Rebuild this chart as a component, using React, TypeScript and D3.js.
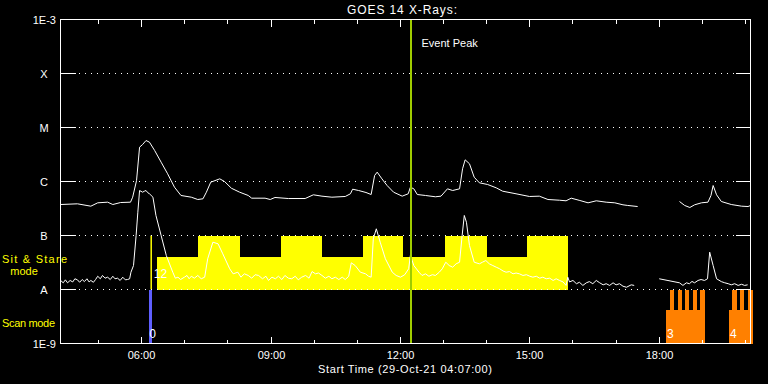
import React from 'react';
import * as d3 from 'd3';

// Time axis (decimal hours, 29-Oct-21), start 04:07
const START_HOUR = 4 + 7 / 60;
const END_HOUR = START_HOUR + 16;
const EVENT_PEAK_HOUR = 12 + 14 / 60;

// GOES 14 long channel (1-8 Å), W/m^2 ; null = data gap
const longTimes = [4.12, 4.51, 4.82, 4.98, 5.21, 5.33, 5.51, 5.74, 5.79, 5.88, 5.95, 6.02, 6.10, 6.18, 6.30, 6.45, 6.60, 6.76, 6.91, 7.15, 7.30, 7.42, 7.50, 7.60, 7.81, 7.92, 8.08, 8.27, 8.47, 8.55, 8.86, 8.98, 9.09, 9.40, 9.79, 9.98, 10.18, 10.41, 10.72, 10.84, 10.89, 11.03, 11.20, 11.32, 11.40, 11.46, 11.57, 11.69, 11.84, 12.04, 12.18, 12.23, 12.31, 12.39, 12.58, 12.81, 12.94, 13.09, 13.21, 13.37, 13.44, 13.50, 13.60, 13.71, 13.83, 14.02, 14.22, 14.37, 14.68, 14.99, 15.22, 15.42, 15.69, 15.84, 15.96, 16.16, 16.35, 16.54, 16.77, 16.97, 17.16, 17.27, 17.50, 18.00, 18.47, 18.59, 18.71, 18.82, 18.98, 19.13, 19.20, 19.25, 19.33, 19.44, 19.67, 19.91, 20.06, 20.12];
const longFlux = [3.75e-7, 3.86e-7, 3.49e-7, 4.03e-7, 4.14e-7, 3.75e-7, 4.08e-7, 4.14e-7, 5.12e-7, 1.04e-6, 4.32e-6, 4.84e-6, 5.74e-6, 5.34e-6, 3.75e-6, 2.28e-6, 1.39e-6, 7.84e-7, 5.51e-7, 5.12e-7, 4.64e-7, 4.78e-7, 6.34e-7, 9.7e-7, 1.12e-6, 1.0e-6, 7.5e-7, 6.34e-7, 5.51e-7, 4.91e-7, 4.91e-7, 4.64e-7, 5.06e-7, 4.84e-7, 4.84e-7, 5.67e-7, 5.35e-7, 5.12e-7, 5.28e-7, 5.92e-7, 7.2e-7, 6.81e-7, 6.26e-7, 5.74e-7, 1.29e-6, 1.49e-6, 1.12e-6, 8.43e-7, 6.34e-7, 5.35e-7, 5.92e-7, 7.84e-7, 7.32e-7, 5.74e-7, 5.51e-7, 5.21e-7, 5.35e-7, 7.32e-7, 6.81e-7, 7.32e-7, 1.72e-6, 2.52e-6, 2.13e-6, 1.2e-6, 9.46e-7, 8.8e-7, 7.64e-7, 6.61e-7, 5.92e-7, 5.28e-7, 5.35e-7, 4.64e-7, 4.5e-7, 4.39e-7, 4.91e-7, 4.45e-7, 4.03e-7, 4.39e-7, 4.14e-7, 4.03e-7, 3.7e-7, 3.6e-7, 3.44e-7, null, 4.26e-7, 3.6e-7, 3.3e-7, 3.7e-7, 4.03e-7, 4.14e-7, 5.51e-7, 8.43e-7, 5.67e-7, 4.26e-7, 3.75e-7, 3.49e-7, 3.44e-7, 3.6e-7];

// GOES 14 short channel (0.5-4 Å), W/m^2 ; null = data gap
const shortTimes = [4.12, 4.18, 4.23, 4.28, 4.34, 4.40, 4.45, 4.51, 4.56, 4.62, 4.67, 4.73, 4.78, 4.82, 4.88, 4.93, 4.98, 5.04, 5.09, 5.15, 5.21, 5.27, 5.33, 5.38, 5.44, 5.50, 5.56, 5.62, 5.67, 5.72, 5.75, 5.81, 5.87, 5.91, 5.95, 6.02, 6.06, 6.10, 6.14, 6.18, 6.26, 6.33, 6.45, 6.57, 6.72, 6.78, 6.84, 6.90, 6.99, 7.05, 7.10, 7.15, 7.22, 7.30, 7.38, 7.46, 7.53, 7.65, 7.77, 7.88, 8.04, 8.12, 8.23, 8.30, 8.38, 8.47, 8.55, 8.63, 8.71, 8.80, 8.88, 8.94, 9.02, 9.10, 9.17, 9.25, 9.32, 9.40, 9.48, 9.56, 9.63, 9.71, 9.80, 9.88, 9.95, 10.03, 10.10, 10.18, 10.26, 10.34, 10.41, 10.49, 10.57, 10.65, 10.72, 10.80, 10.86, 10.95, 11.07, 11.19, 11.26, 11.32, 11.37, 11.44, 11.53, 11.65, 11.81, 11.90, 12.00, 12.10, 12.19, 12.23, 12.31, 12.43, 12.50, 12.58, 12.66, 12.74, 12.81, 12.90, 12.97, 13.05, 13.13, 13.21, 13.29, 13.37, 13.43, 13.48, 13.53, 13.60, 13.71, 13.83, 13.90, 13.98, 14.06, 14.14, 14.22, 14.30, 14.38, 14.45, 14.53, 14.61, 14.68, 14.76, 14.84, 14.92, 15.00, 15.07, 15.15, 15.23, 15.30, 15.38, 15.46, 15.54, 15.61, 15.69, 15.77, 15.84, 15.88, 15.92, 16.00, 16.08, 16.15, 16.23, 16.31, 16.38, 16.46, 16.54, 16.62, 16.70, 16.77, 16.85, 16.93, 17.00, 17.08, 17.16, 17.24, 17.35, 17.42, 17.50, 18.00, 18.47, 18.55, 18.63, 18.70, 18.76, 18.82, 18.90, 18.97, 19.05, 19.12, 19.17, 19.25, 19.33, 19.44, 19.52, 19.60, 19.67, 19.75, 19.83, 19.91, 19.98, 20.05, 20.12];
const shortFlux = [1.47e-8, 1.33e-8, 1.51e-8, 1.33e-8, 1.47e-8, 1.38e-8, 1.58e-8, 1.51e-8, 1.36e-8, 1.53e-8, 1.40e-8, 1.58e-8, 1.38e-8, 1.47e-8, 1.36e-8, 1.53e-8, 1.76e-8, 1.58e-8, 1.82e-8, 1.62e-8, 1.69e-8, 1.53e-8, 1.76e-8, 1.58e-8, 1.62e-8, 1.47e-8, 1.69e-8, 1.51e-8, 1.53e-8, 1.58e-8, 2.09e-8, 2.78e-8, 1.0e-7, 2.7e-7, 6.81e-7, 6.34e-7, 6.6e-7, 6.81e-7, 6.2e-7, 5.92e-7, 5.12e-7, 2.35e-7, 1.0e-7, 4.26e-8, 2.09e-8, 1.62e-8, 1.69e-8, 1.53e-8, 1.69e-8, 1.82e-8, 1.58e-8, 1.76e-8, 1.62e-8, 1.82e-8, 1.58e-8, 1.69e-8, 3.71e-8, 7.52e-8, 7.02e-8, 4.58e-8, 2.42e-8, 1.95e-8, 2.09e-8, 1.69e-8, 1.95e-8, 1.82e-8, 1.62e-8, 1.88e-8, 1.82e-8, 1.58e-8, 1.76e-8, 1.47e-8, 1.69e-8, 1.58e-8, 1.76e-8, 1.53e-8, 1.82e-8, 1.62e-8, 1.58e-8, 1.76e-8, 1.51e-8, 1.69e-8, 1.82e-8, 1.62e-8, 2.15e-8, 1.95e-8, 2.02e-8, 1.82e-8, 1.62e-8, 1.76e-8, 1.58e-8, 1.69e-8, 1.53e-8, 1.69e-8, 1.53e-8, 1.76e-8, 3.12e-8, 2.78e-8, 2.09e-8, 1.95e-8, 1.76e-8, 1.69e-8, 8.69e-8, 1.33e-7, 7.52e-8, 3.71e-8, 2.09e-8, 1.82e-8, 1.69e-8, 1.88e-8, 2.42e-8, 4.26e-8, 2.78e-8, 2.09e-8, 1.82e-8, 1.95e-8, 1.76e-8, 1.88e-8, 1.82e-8, 2.09e-8, 2.42e-8, 3.2e-8, 2.78e-8, 2.59e-8, 2.99e-8, 3.2e-8, 1.0e-7, 2.35e-7, 1.76e-7, 6.53e-8, 3.2e-8, 2.99e-8, 3.2e-8, 3.44e-8, 2.99e-8, 2.78e-8, 2.59e-8, 2.42e-8, 2.2e-8, 2.09e-8, 2.15e-8, 1.95e-8, 2.02e-8, 1.95e-8, 1.82e-8, 1.88e-8, 1.76e-8, 1.69e-8, 1.76e-8, 1.62e-8, 1.69e-8, 1.58e-8, 1.62e-8, 1.47e-8, 1.58e-8, 1.47e-8, 1.38e-8, 1.19e-8, 1.69e-8, 1.38e-8, 1.47e-8, 1.28e-8, 1.36e-8, 1.19e-8, 1.33e-8, 1.40e-8, 1.28e-8, 1.47e-8, 1.33e-8, 1.22e-8, 1.28e-8, 1.19e-8, 1.33e-8, 1.22e-8, 1.28e-8, 1.15e-8, 1.10e-8, 1.22e-8, 1.19e-8, null, 1.58e-8, 1.33e-8, 1.19e-8, 1.33e-8, 1.28e-8, 1.41e-8, 1.33e-8, 1.47e-8, 1.53e-8, 1.47e-8, 1.58e-8, 4.91e-8, 2.78e-8, 1.58e-8, 1.40e-8, 1.33e-8, 1.28e-8, 1.22e-8, 1.28e-8, 1.19e-8, 1.25e-8, 1.19e-8, 1.22e-8];

// Y axis decades and their labels
const decadeValues = [1e-9, 1e-8, 1e-7, 1e-6, 1e-5, 1e-4, 1e-3];
const decadeLabels = ['1E-9', 'A', 'B', 'C', 'M', 'X', 'E-3'];
const gridDecades = [1e-8, 1e-7, 1e-6, 1e-5, 1e-4];
const majorTickHours = [6, 9, 12, 15, 18];
const majorTickLabels = ['06:00', '09:00', '12:00', '15:00', '18:00'];

// Sit & Stare mode: base interval and raised intervals
const sitStareBase = [6.36, 15.88];
const sitStareHighStart = [7.31, 9.23, 11.12, 13.03, 14.93];
const sitStareHighEnd = [8.28, 10.17, 12.07, 14.00, 15.88];
const sitStareLowTop = 4.08e-8;
const sitStareHighTop = 1e-7;
const sitStareMarkerHour = 6.22;

// Scan mode: blue marker, orange raster blocks
const scanMarker = [6.165, 6.24];
const scanBlockStart = [18.157, 19.618];
const scanBlockEnd = [19.06, 20.167];
const scanBlockLabels = ['3', '4'];
const scanTeethStart = [18.25, 18.428, 18.60, 18.776, 18.95, 19.695, 19.873, 20.05];
const scanTeethEnd = [18.34, 18.52, 18.70, 18.876, 19.06, 19.797, 19.973, 20.167];
const scanBaseTop = 4.17e-9;

export default function App() {
  const W = 768;
  const H = 384;
  const left = 60.5, right = 750.5, top = 19.5, bottom = 343.5;
  const x = d3.scaleLinear().domain([START_HOUR, END_HOUR]).range([left, right]);
  const y = d3.scaleLog().domain([1e-9, 1e-3]).range([bottom, top]);

  const line = d3
    .line<[number, number | null]>()
    .defined((d) => d[1] !== null)
    .x((d) => x(d[0]))
    .y((d) => y(d[1] as number));

  const longData = longTimes.map((t, i) => [t, longFlux[i]] as [number, number | null]);
  const shortData = shortTimes.map((t, i) => [t, shortFlux[i]] as [number, number | null]);

  const hourTicks = d3.range(5, 21);
  const font = "'Liberation Sans', Arial, sans-serif";

  return (
    <svg width={W} height={H} style={{ position: 'absolute', left: 0, top: 0 }} fontFamily={font}>
      <rect x={0} y={0} width={W} height={H} fill="#000" />

      {/* Sit & Stare mode (yellow) */}
      <g fill="#ffff00" shapeRendering="crispEdges">
        <rect
          x={x(sitStareBase[0])}
          y={y(sitStareLowTop)}
          width={x(sitStareBase[1]) - x(sitStareBase[0])}
          height={y(1e-8) - y(sitStareLowTop)}
        />
        {sitStareHighStart.map((s, i) => (
          <rect
            key={i}
            x={x(s)}
            y={y(sitStareHighTop)}
            width={x(sitStareHighEnd[i]) - x(s)}
            height={y(1e-8) - y(sitStareHighTop)}
          />
        ))}
      </g>
      <line
        x1={x(sitStareMarkerHour)}
        x2={x(sitStareMarkerHour)}
        y1={y(1e-7)}
        y2={y(1e-8)}
        stroke="#ffff00"
        strokeWidth={1.5}
      />

      {/* Scan mode */}
      <rect
        x={x(scanMarker[0])}
        y={y(1e-8)}
        width={x(scanMarker[1]) - x(scanMarker[0])}
        height={y(1e-9) - y(1e-8)}
        fill="#5f5fff"
        shapeRendering="crispEdges"
      />
      <g fill="#ff8000" shapeRendering="crispEdges">
        {scanBlockStart.map((s, i) => (
          <rect key={i} x={x(s)} y={y(scanBaseTop)} width={x(scanBlockEnd[i]) - x(s)} height={y(1e-9) - y(scanBaseTop)} />
        ))}
        {scanTeethStart.map((s, i) => (
          <rect key={'t' + i} x={x(s)} y={y(1e-8)} width={x(scanTeethEnd[i]) - x(s)} height={y(scanBaseTop) - y(1e-8) + 1} />
        ))}
      </g>

      {/* dotted grid */}
      {gridDecades.map((d) => (
        <line
          key={d}
          x1={left + 18}
          x2={right}
          y1={y(d)}
          y2={y(d)}
          stroke="#fff"
          strokeDasharray="1 5"
          shapeRendering="crispEdges"
        />
      ))}

      {/* curves */}
      <path d={line(longData) || ''} fill="none" stroke="#fff" strokeWidth={1} />
      <path d={line(shortData) || ''} fill="none" stroke="#fff" strokeWidth={1} />

      {/* event peak */}
      <line x1={x(EVENT_PEAK_HOUR)} x2={x(EVENT_PEAK_HOUR)} y1={top} y2={bottom} stroke="#9fcc00" strokeWidth={2} shapeRendering="crispEdges" />
      <text x={x(EVENT_PEAK_HOUR) + 11} y={47} fill="#fff" fontSize={11}>Event Peak</text>

      {/* mode labels on blocks */}
      <text x={x(scanMarker[0]) + 0.5} y={338} fill="#fff" fontSize={12}>0</text>
      <text x={x(sitStareMarkerHour) + 2.5} y={278} fill="#fff" fontSize={12}>12</text>
      {scanBlockStart.map((s, i) => (
        <text key={i} x={x(s) + 1} y={338} fill="#fff" fontSize={12}>{scanBlockLabels[i]}</text>
      ))}

      {/* axes frame */}
      <rect x={left} y={top} width={right - left} height={bottom - top} fill="none" stroke="#fff" shapeRendering="crispEdges" />
      <g stroke="#fff" shapeRendering="crispEdges">
        {decadeValues.map((d) => (
          <g key={d}>
            <line x1={left} x2={left + 15} y1={y(d)} y2={y(d)} />
            <line x1={right - 15} x2={right} y1={y(d)} y2={y(d)} />
          </g>
        ))}
        {hourTicks.map((h) => {
          const len = h % 3 === 0 ? 7 : 4;
          const xx = Math.floor(x(h)) + 0.5;
          return (
            <g key={h}>
              <line x1={xx} x2={xx} y1={top} y2={top + len} />
              <line x1={xx} x2={xx} y1={bottom} y2={bottom - len} />
            </g>
          );
        })}
      </g>

      {/* y labels */}
      {decadeValues.map((d, i) => {
        const isNum = i === 0 || i === decadeValues.length - 1;
        return (
          <text
            key={d}
            x={isNum ? 56 : 44}
            y={y(d) + 4}
            fill="#fff"
            fontSize={11}
            textAnchor={isNum ? 'end' : 'middle'}
          >
            {i === decadeValues.length - 1 ? '1E-3' : decadeLabels[i]}
          </text>
        );
      })}

      {/* x labels */}
      {majorTickHours.map((h, i) => (
        <text key={h} x={Math.floor(x(h)) + 0.5} y={359} fill="#fff" fontSize={11} textAnchor="middle">
          {majorTickLabels[i]}
        </text>
      ))}
      <text x={405} y={373} fill="#fff" fontSize={11} textAnchor="middle" textLength={174}>
        Start Time (29-Oct-21 04:07:00)
      </text>

      {/* title */}
      <text x={402} y={14} fill="#fff" fontSize={12} textAnchor="middle" textLength={110}>
        GOES 14 X-Rays:
      </text>

      {/* mode legends */}
      <text x={2} y={263} fill="#ffff00" fontSize={11} textLength={65}>Sit &amp; Stare</text>
      <text x={24} y={275} fill="#ffff00" fontSize={11} textAnchor="middle">mode</text>
      <text x={2} y={327} fill="#ffff00" fontSize={11} textLength={53}>Scan mode</text>
    </svg>
  );
}
